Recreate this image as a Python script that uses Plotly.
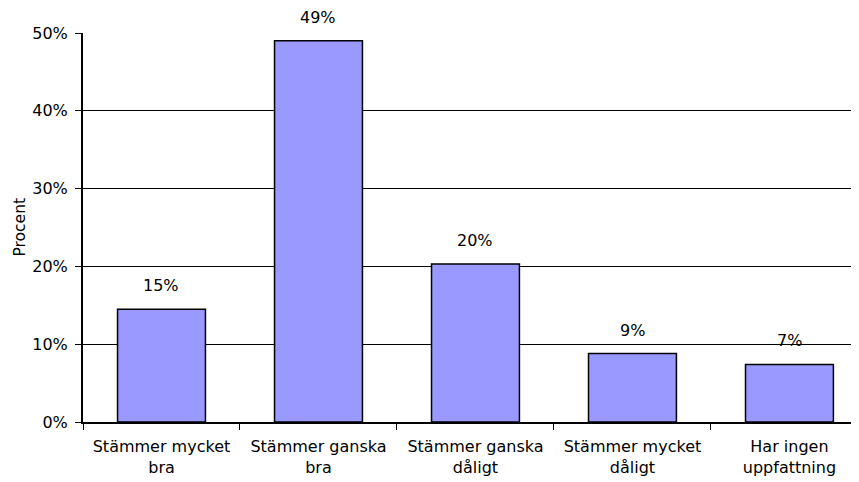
import plotly.graph_objects as go

categories = ["Stämmer mycket<br>bra", "Stämmer ganska<br>bra", "Stämmer ganska<br>dåligt",
              "Stämmer mycket<br>dåligt", "Har ingen<br>uppfattning"]
values = [14.5, 49.0, 20.3, 8.8, 7.4]
labels = ["15%", "49%", "20%", "9%", "7%"]
tick_vals = [0, 10, 20, 30, 40, 50]
tick_text = ["0%", "10%", "20%", "30%", "40%", "50%"]

fam = "DejaVu Sans, Liberation Sans, sans-serif"
font = dict(family=fam, size=16, color="black")

fig = go.Figure()
fig.add_trace(go.Bar(
    x=categories, y=values,
    marker=dict(color="#9999FF", line=dict(color="black", width=1.5)),
    hoverinfo="skip",
))
for c, v, t in zip(categories, values, labels):
    fig.add_annotation(x=c, y=v, text=t, showarrow=False, yanchor="bottom",
                       yshift=12, font=font)

fig.add_annotation(xref="paper", yref="paper", x=0, y=0.5, xshift=-64, xanchor="center",
                   text="Procent", textangle=-90, showarrow=False,
                   font=dict(family=fam, size=15.5, color="black"))

fig.update_layout(
    width=851, height=474,
    margin=dict(l=75, r=0, t=25, b=60),
    plot_bgcolor="white", paper_bgcolor="white",
    bargap=0.44,
    showlegend=False,
    font=font,
    xaxis=dict(showline=True, linecolor="black", linewidth=2, automargin=False,
               range=[-0.5, 4.443],
               ticks="outside", tickson="boundaries", ticklen=6, tickcolor="black",
               ticklabelstandoff=9, tickfont=font, showgrid=False),
    yaxis=dict(range=[0, 50], tickvals=tick_vals, ticktext=tick_text, automargin=False,
               showline=True, linecolor="black", linewidth=2,
               ticks="outside", ticklen=6, tickcolor="black", ticklabelstandoff=4,
               showgrid=True, gridcolor="black", gridwidth=1,
               zeroline=False, tickfont=font),
)
fig.write_html("out.html")
